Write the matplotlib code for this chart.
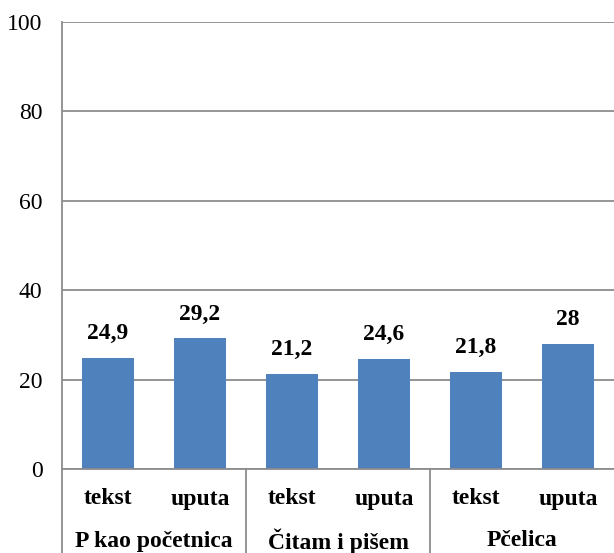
import matplotlib
matplotlib.use("Agg")
import matplotlib.pyplot as plt
from matplotlib.lines import Line2D

groups = ["P kao početnica", "Čitam i pišem", "Pčelica"]
subcats = ["tekst", "uputa", "tekst", "uputa", "tekst", "uputa"]
values = [24.9, 29.2, 21.2, 24.6, 21.8, 28]
labels = ["24,9", "29,2", "21,2", "24,6", "21,8", "28"]
yticks = [0, 20, 40, 60, 80, 100]

FONT = "Liberation Serif"
BAR = "#4F81BD"
GRID = "#8C8C8C"

fig = plt.figure(figsize=(6.14, 5.53), dpi=100)
ax = fig.add_axes([62/614, 1-469/553, 1-62/614, (469-22)/553])

x = list(range(len(values)))
ax.bar(x, values, width=0.57, color=BAR, zorder=3)
ax.set_xlim(-0.5, len(values)-0.5)
ax.set_ylim(0, 100)
ax.set_yticks(yticks)
ax.set_yticklabels([str(t) for t in yticks], fontfamily=FONT, fontsize=17)
ax.tick_params(axis='y', length=0, pad=14)
ax.set_xticks([])
ax.yaxis.grid(True, color=GRID, linewidth=1.3, zorder=0)
for s in ["top", "right"]:
    ax.spines[s].set_visible(False)
ax.spines["left"].set_color(GRID)
ax.spines["left"].set_linewidth(1.3)
ax.spines["bottom"].set_color(GRID)
ax.spines["bottom"].set_linewidth(1.3)
ax.spines["bottom"].set_zorder(4)

for xi, v, lab in zip(x, values, labels):
    ax.annotate(lab, (xi, v), xytext=(0, 10), textcoords="offset points",
                ha="center", va="bottom", fontfamily=FONT, fontsize=17,
                fontweight="bold")

trans = ax.get_xaxis_transform()
for xi, sc in zip(x, subcats):
    ax.text(xi, -30/447, sc, transform=trans, ha="center", va="center",
            fontfamily=FONT, fontsize=17, fontweight="bold")
for gi, g in enumerate(groups):
    ax.text(2*gi + 0.5, -72/447, g, transform=trans, ha="center", va="center",
            fontfamily=FONT, fontsize=17, fontweight="bold")

bottom = -84/447
for xs in [-0.5, 1.5, 3.5]:
    ax.add_line(Line2D([xs, xs], [0, bottom], transform=trans, color=GRID,
                       linewidth=1.3, clip_on=False))

fig.savefig("out.png", dpi=100)
